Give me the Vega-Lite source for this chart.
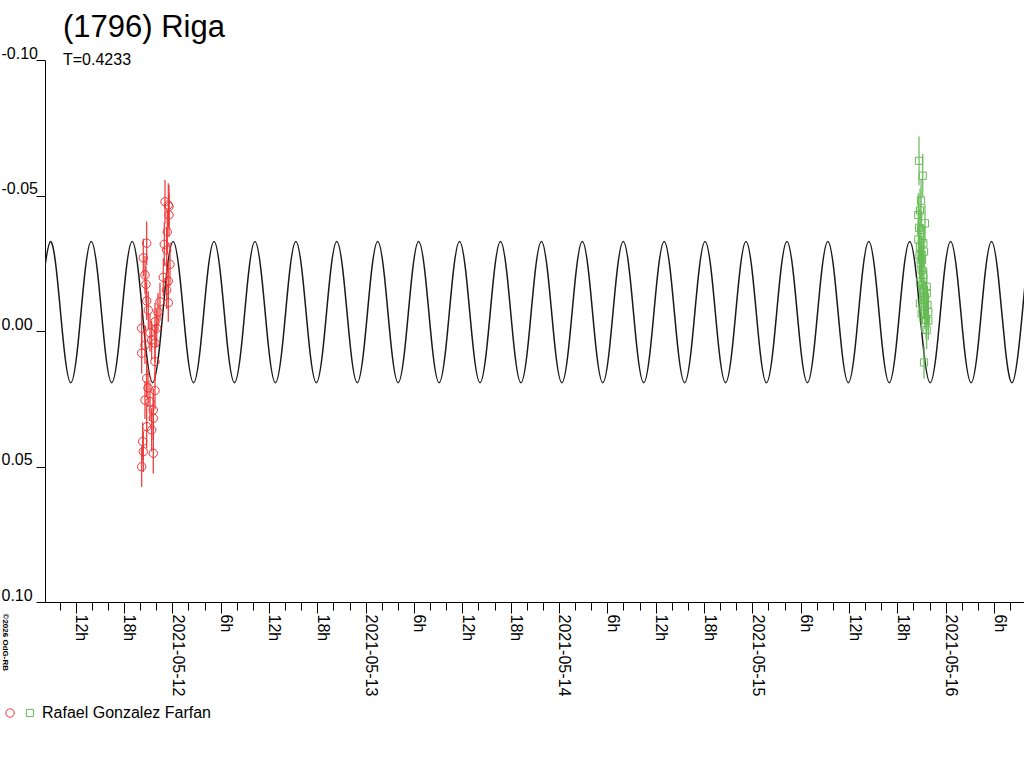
{
  "$schema": "https://vega.github.io/schema/vega-lite/v6.json",
  "autosize": {"type": "none"},
  "padding": {"left": 45, "top": 60, "right": 0, "bottom": 166},
  "width": 979,
  "height": 542,
  "background": "white",
  "title": {
    "text": "(1796) Riga",
    "subtitle": "T=0.4233",
    "anchor": "start",
    "frame": "group",
    "dx": 18,
    "offset": -24,
    "font": "Liberation Sans",
    "fontSize": 31,
    "fontWeight": "normal",
    "color": "black",
    "subtitleFont": "Liberation Sans",
    "subtitleFontSize": 16,
    "subtitleColor": "black",
    "subtitlePadding": 8
  },
  "datasets": {
    "model": [
      {"h": -15.986, "mag": -0.0199},
      {"h": -15.139, "mag": -0.0330}, {"h": -14.292, "mag": -0.0199}, {"h": -13.446, "mag": 0.0061}, {"h": -12.599, "mag": 0.0191}, {"h": -11.752, "mag": 0.0061}, {"h": -10.906, "mag": -0.0199},
      {"h": -10.059, "mag": -0.0330}, {"h": -9.213, "mag": -0.0199}, {"h": -8.366, "mag": 0.0061}, {"h": -7.519, "mag": 0.0191}, {"h": -6.673, "mag": 0.0061}, {"h": -5.826, "mag": -0.0199},
      {"h": -4.980, "mag": -0.0330}, {"h": -4.133, "mag": -0.0199}, {"h": -3.286, "mag": 0.0061}, {"h": -2.440, "mag": 0.0191}, {"h": -1.593, "mag": 0.0061}, {"h": -0.747, "mag": -0.0199},
      {"h": 0.100, "mag": -0.0330}, {"h": 0.947, "mag": -0.0199}, {"h": 1.793, "mag": 0.0061}, {"h": 2.640, "mag": 0.0191}, {"h": 3.486, "mag": 0.0061}, {"h": 4.333, "mag": -0.0199},
      {"h": 5.180, "mag": -0.0330}, {"h": 6.026, "mag": -0.0199}, {"h": 6.873, "mag": 0.0061}, {"h": 7.719, "mag": 0.0191}, {"h": 8.566, "mag": 0.0061}, {"h": 9.413, "mag": -0.0199},
      {"h": 10.259, "mag": -0.0330}, {"h": 11.106, "mag": -0.0199}, {"h": 11.952, "mag": 0.0061}, {"h": 12.799, "mag": 0.0191}, {"h": 13.646, "mag": 0.0061}, {"h": 14.492, "mag": -0.0199},
      {"h": 15.339, "mag": -0.0330}, {"h": 16.185, "mag": -0.0199}, {"h": 17.032, "mag": 0.0061}, {"h": 17.879, "mag": 0.0191}, {"h": 18.725, "mag": 0.0061}, {"h": 19.572, "mag": -0.0199},
      {"h": 20.418, "mag": -0.0330}, {"h": 21.265, "mag": -0.0199}, {"h": 22.112, "mag": 0.0061}, {"h": 22.958, "mag": 0.0191}, {"h": 23.805, "mag": 0.0061}, {"h": 24.651, "mag": -0.0199},
      {"h": 25.498, "mag": -0.0330}, {"h": 26.345, "mag": -0.0199}, {"h": 27.191, "mag": 0.0061}, {"h": 28.038, "mag": 0.0191}, {"h": 28.884, "mag": 0.0061}, {"h": 29.731, "mag": -0.0199},
      {"h": 30.578, "mag": -0.0330}, {"h": 31.424, "mag": -0.0199}, {"h": 32.271, "mag": 0.0061}, {"h": 33.117, "mag": 0.0191}, {"h": 33.964, "mag": 0.0061}, {"h": 34.811, "mag": -0.0199},
      {"h": 35.657, "mag": -0.0330}, {"h": 36.504, "mag": -0.0199}, {"h": 37.350, "mag": 0.0061}, {"h": 38.197, "mag": 0.0191}, {"h": 39.044, "mag": 0.0061}, {"h": 39.890, "mag": -0.0199},
      {"h": 40.737, "mag": -0.0330}, {"h": 41.583, "mag": -0.0199}, {"h": 42.430, "mag": 0.0061}, {"h": 43.277, "mag": 0.0191}, {"h": 44.123, "mag": 0.0061}, {"h": 44.970, "mag": -0.0199},
      {"h": 45.816, "mag": -0.0330}, {"h": 46.663, "mag": -0.0199}, {"h": 47.510, "mag": 0.0061}, {"h": 48.356, "mag": 0.0191}, {"h": 49.203, "mag": 0.0061}, {"h": 50.049, "mag": -0.0199},
      {"h": 50.896, "mag": -0.0330}, {"h": 51.743, "mag": -0.0199}, {"h": 52.589, "mag": 0.0061}, {"h": 53.436, "mag": 0.0191}, {"h": 54.282, "mag": 0.0061}, {"h": 55.129, "mag": -0.0199},
      {"h": 55.976, "mag": -0.0330}, {"h": 56.822, "mag": -0.0199}, {"h": 57.669, "mag": 0.0061}, {"h": 58.515, "mag": 0.0191}, {"h": 59.362, "mag": 0.0061}, {"h": 60.209, "mag": -0.0199},
      {"h": 61.055, "mag": -0.0330}, {"h": 61.902, "mag": -0.0199}, {"h": 62.748, "mag": 0.0061}, {"h": 63.595, "mag": 0.0191}, {"h": 64.442, "mag": 0.0061}, {"h": 65.288, "mag": -0.0199},
      {"h": 66.135, "mag": -0.0330}, {"h": 66.981, "mag": -0.0199}, {"h": 67.828, "mag": 0.0061}, {"h": 68.675, "mag": 0.0191}, {"h": 69.521, "mag": 0.0061}, {"h": 70.368, "mag": -0.0199},
      {"h": 71.214, "mag": -0.0330}, {"h": 72.061, "mag": -0.0199}, {"h": 72.908, "mag": 0.0061}, {"h": 73.754, "mag": 0.0191}, {"h": 74.601, "mag": 0.0061}, {"h": 75.447, "mag": -0.0199},
      {"h": 76.294, "mag": -0.0330}, {"h": 77.141, "mag": -0.0199}, {"h": 77.987, "mag": 0.0061}, {"h": 78.834, "mag": 0.0191}, {"h": 79.680, "mag": 0.0061}, {"h": 80.527, "mag": -0.0199},
      {"h": 81.374, "mag": -0.0330}, {"h": 82.220, "mag": -0.0199}, {"h": 83.067, "mag": 0.0061}, {"h": 83.913, "mag": 0.0191}, {"h": 84.760, "mag": 0.0061}, {"h": 85.607, "mag": -0.0199},
      {"h": 86.453, "mag": -0.0330}, {"h": 87.300, "mag": -0.0199}, {"h": 88.146, "mag": 0.0061}, {"h": 88.993, "mag": 0.0191}, {"h": 89.840, "mag": 0.0061}, {"h": 90.686, "mag": -0.0199},
      {"h": 91.533, "mag": -0.0330}, {"h": 92.379, "mag": -0.0199}, {"h": 93.226, "mag": 0.0061}, {"h": 94.073, "mag": 0.0191}, {"h": 94.919, "mag": 0.0061}, {"h": 95.766, "mag": -0.0199},
      {"h": 96.612, "mag": -0.0330}, {"h": 97.459, "mag": -0.0199}, {"h": 98.306, "mag": 0.0061}, {"h": 99.152, "mag": 0.0191}, {"h": 99.999, "mag": 0.0061}, {"h": 100.845, "mag": -0.0199},
      {"h": 101.692, "mag": -0.0330}, {"h": 102.539, "mag": -0.0199}, {"h": 103.385, "mag": 0.0061}, {"h": 104.232, "mag": 0.0191}, {"h": 105.078, "mag": 0.0061}, {"h": 105.925, "mag": -0.0199}
    ],
    "obs": [
      {"s": "s1", "h": -3.798, "mag": 0.0501, "err": 0.0075},
      {"s": "s1", "h": -3.674, "mag": 0.0408, "err": 0.007},
      {"s": "s1", "h": -3.600, "mag": 0.0445, "err": 0.0075},
      {"s": "s1", "h": -3.798, "mag": -0.0010, "err": 0.007},
      {"s": "s1", "h": -3.798, "mag": 0.0082, "err": 0.0075},
      {"s": "s1", "h": -3.600, "mag": -0.0270, "err": 0.007},
      {"s": "s1", "h": -3.389, "mag": -0.0207, "err": 0.007},
      {"s": "s1", "h": -3.389, "mag": 0.0255, "err": 0.007},
      {"s": "s1", "h": -3.389, "mag": 0.0052, "err": 0.007},
      {"s": "s1", "h": -3.265, "mag": -0.0172, "err": 0.007},
      {"s": "s1", "h": -3.178, "mag": -0.0324, "err": 0.008},
      {"s": "s1", "h": -3.178, "mag": -0.0111, "err": 0.007},
      {"s": "s1", "h": -3.178, "mag": 0.0175, "err": 0.007},
      {"s": "s1", "h": -3.178, "mag": 0.0353, "err": 0.008},
      {"s": "s1", "h": -3.016, "mag": 0.0210, "err": 0.007},
      {"s": "s1", "h": -2.979, "mag": -0.0077, "err": 0.007},
      {"s": "s1", "h": -2.768, "mag": 0.0261, "err": 0.007},
      {"s": "s1", "h": -2.768, "mag": 0.0007, "err": 0.007},
      {"s": "s1", "h": -2.557, "mag": 0.0033, "err": 0.007},
      {"s": "s1", "h": -2.557, "mag": 0.0365, "err": 0.008},
      {"s": "s1", "h": -2.358, "mag": 0.0292, "err": 0.008},
      {"s": "s1", "h": -2.358, "mag": 0.0322, "err": 0.008},
      {"s": "s1", "h": -2.358, "mag": 0.0451, "err": 0.0075},
      {"s": "s1", "h": -2.147, "mag": 0.0045, "err": 0.007},
      {"s": "s1", "h": -2.147, "mag": 0.0113, "err": 0.007},
      {"s": "s1", "h": -2.147, "mag": 0.0220, "err": 0.007},
      {"s": "s1", "h": -2.147, "mag": -0.0034, "err": 0.007},
      {"s": "s1", "h": -1.936, "mag": -0.0010, "err": 0.007},
      {"s": "s1", "h": -1.775, "mag": -0.0070, "err": 0.007},
      {"s": "s1", "h": -1.527, "mag": -0.0108, "err": 0.007},
      {"s": "s1", "h": -1.117, "mag": -0.0198, "err": 0.007},
      {"s": "s1", "h": -0.993, "mag": -0.0320, "err": 0.008},
      {"s": "s1", "h": -0.906, "mag": -0.0477, "err": 0.008},
      {"s": "s1", "h": -0.695, "mag": -0.0299, "err": 0.008},
      {"s": "s1", "h": -0.695, "mag": -0.0151, "err": 0.007},
      {"s": "s1", "h": -0.621, "mag": -0.0366, "err": 0.008},
      {"s": "s1", "h": -0.497, "mag": -0.0465, "err": 0.008},
      {"s": "s1", "h": -0.497, "mag": -0.0185, "err": 0.007},
      {"s": "s1", "h": -0.497, "mag": -0.0104, "err": 0.007},
      {"s": "s1", "h": -0.410, "mag": -0.0459, "err": 0.008},
      {"s": "s1", "h": -0.410, "mag": -0.0428, "err": 0.008},
      {"s": "s1", "h": -0.285, "mag": -0.0246, "err": 0.008},
      {"s": "s2", "h": 92.60, "mag": -0.0428, "err": 0.008},
      {"s": "s2", "h": 92.60, "mag": -0.0338, "err": 0.007},
      {"s": "s2", "h": 92.69, "mag": -0.0628, "err": 0.009},
      {"s": "s2", "h": 92.69, "mag": -0.0381, "err": 0.007},
      {"s": "s2", "h": 92.75, "mag": -0.0280, "err": 0.007},
      {"s": "s2", "h": 92.81, "mag": -0.0445, "err": 0.008},
      {"s": "s2", "h": 92.81, "mag": -0.0311, "err": 0.007},
      {"s": "s2", "h": 92.81, "mag": -0.0182, "err": 0.007},
      {"s": "s2", "h": 92.81, "mag": -0.0102, "err": 0.007},
      {"s": "s2", "h": 92.90, "mag": -0.0250, "err": 0.007},
      {"s": "s2", "h": 92.94, "mag": -0.0481, "err": 0.008},
      {"s": "s2", "h": 92.94, "mag": -0.0373, "err": 0.007},
      {"s": "s2", "h": 93.02, "mag": -0.0280, "err": 0.007},
      {"s": "s2", "h": 93.02, "mag": -0.0225, "err": 0.007},
      {"s": "s2", "h": 93.02, "mag": -0.0065, "err": 0.007},
      {"s": "s2", "h": 93.06, "mag": -0.0262, "err": 0.007},
      {"s": "s2", "h": 93.06, "mag": -0.0170, "err": 0.007},
      {"s": "s2", "h": 93.15, "mag": -0.0573, "err": 0.008},
      {"s": "s2", "h": 93.19, "mag": -0.0207, "err": 0.007},
      {"s": "s2", "h": 93.22, "mag": -0.0324, "err": 0.007},
      {"s": "s2", "h": 93.25, "mag": -0.0114, "err": 0.007},
      {"s": "s2", "h": 93.31, "mag": -0.0293, "err": 0.007},
      {"s": "s2", "h": 93.31, "mag": -0.0151, "err": 0.007},
      {"s": "s2", "h": 93.31, "mag": 0.0116, "err": 0.006},
      {"s": "s2", "h": 93.43, "mag": -0.0397, "err": 0.007},
      {"s": "s2", "h": 93.43, "mag": -0.0114, "err": 0.007},
      {"s": "s2", "h": 93.43, "mag": -0.0077, "err": 0.007},
      {"s": "s2", "h": 93.56, "mag": -0.0041, "err": 0.007},
      {"s": "s2", "h": 93.64, "mag": -0.0163, "err": 0.007},
      {"s": "s2", "h": 93.64, "mag": -0.0139, "err": 0.007},
      {"s": "s2", "h": 93.64, "mag": -0.0004, "err": 0.007},
      {"s": "s2", "h": 93.73, "mag": -0.0096, "err": 0.007},
      {"s": "s2", "h": 93.84, "mag": -0.0071, "err": 0.007},
      {"s": "s2", "h": 93.84, "mag": -0.0038, "err": 0.007}
    ]
  },
  "encoding": {
    "x": {
      "field": "h",
      "type": "quantitative",
      "scale": {"domain": [-15.8, 105.72], "nice": false, "zero": false},
      "axis": {
        "title": null,
        "grid": false,
        "values": [-14, -12, -10, -8, -6, -4, -2, 0, 2, 4, 6, 8, 10, 12, 14, 16, 18, 20, 22, 24, 26, 28, 30, 32, 34, 36, 38, 40, 42, 44, 46, 48, 50, 52, 54, 56, 58, 60, 62, 64, 66, 68, 70, 72, 74, 76, 78, 80, 82, 84, 86, 88, 90, 92, 94, 96, 98, 100, 102, 104],
        "labelExpr": "datum.value % 6 != 0 ? '' : (datum.value % 24 == 0 ? '2021-05-' + (12 + datum.value / 24) : ((datum.value % 24 + 24) % 24) + 'h')",
        "labelAngle": 90,
        "labelAlign": "left",
        "labelBaseline": "alphabetic",
        "labelOverlap": false,
        "labelFlush": false,
        "labelBound": false,
        "labelPadding": 1,
        "tickSize": {"condition": {"test": "datum.value % 6 == 0", "value": 11}, "value": 8}
      }
    },
    "y": {
      "field": "mag",
      "type": "quantitative",
      "scale": {"domain": [-0.1, 0.1], "reverse": true, "nice": false, "zero": false},
      "axis": {
        "title": "©2026 OdG-RB",
        "titleAngle": 90,
        "titleFont": "Liberation Sans",
        "titleFontSize": 8,
        "titleFontWeight": "bold",
        "titleAlign": "left",
        "titleBaseline": "alphabetic",
        "titleX": -43,
        "titleY": 553,
        "grid": false,
        "values": [-0.1, -0.05, 0, 0.05, 0.1],
        "labelExpr": "replace(format(datum.value, '.2f'), '\u2212', '-')",
        "tickSize": 9,
        "labelAlign": "left",
        "labelBaseline": "alphabetic",
        "labelPadding": 35,
        "labelOffset": -2
      }
    },
    "color": {
      "field": "s",
      "type": "nominal",
      "scale": {"domain": ["s1", "s2"], "range": ["#ee3333", "#66bb55"]},
      "legend": {
        "title": null,
        "orient": "none",
        "legendX": -43,
        "legendY": 645,
        "direction": "horizontal",
        "labelExpr": "datum.label == 's1' ? '' : 'Rafael Gonzalez Farfan'",
        "labelFont": "Liberation Sans",
        "labelFontSize": 16,
        "labelColor": "black",
        "labelLimit": 400,
        "labelOffset": 4,
        "columnPadding": -9,
        "symbolSize": 64,
        "symbolStrokeWidth": 1
      }
    }
  },
  "layer": [
    {
      "data": {"name": "model"},
      "mark": {"type": "line", "interpolate": "natural", "color": "#1a1a1a", "strokeWidth": 1.5, "clip": true},
      "encoding": {"color": {"value": "#1a1a1a"}}
    },
    {
      "data": {"name": "obs"},
      "mark": {"type": "errorbar", "thickness": 1.2},
      "encoding": {
        "yError": {"field": "err"}
      }
    },
    {
      "data": {"name": "obs"},
      "mark": {"type": "point", "filled": false, "strokeWidth": 1, "opacity": 1},
      "encoding": {
        "shape": {"field": "s", "type": "nominal", "scale": {"domain": ["s1", "s2"], "range": ["circle", "square"]}},
        "size": {"field": "s", "type": "nominal", "scale": {"domain": ["s1", "s2"], "range": [70, 52]}, "legend": null}
      }
    }
  ],
  "config": {
    "view": {"stroke": null},
    "axis": {
      "domainColor": "black",
      "tickColor": "black",
      "labelColor": "black",
      "labelFont": "Liberation Sans",
      "labelFontSize": 16,
      "titleColor": "black"
    }
  }
}
